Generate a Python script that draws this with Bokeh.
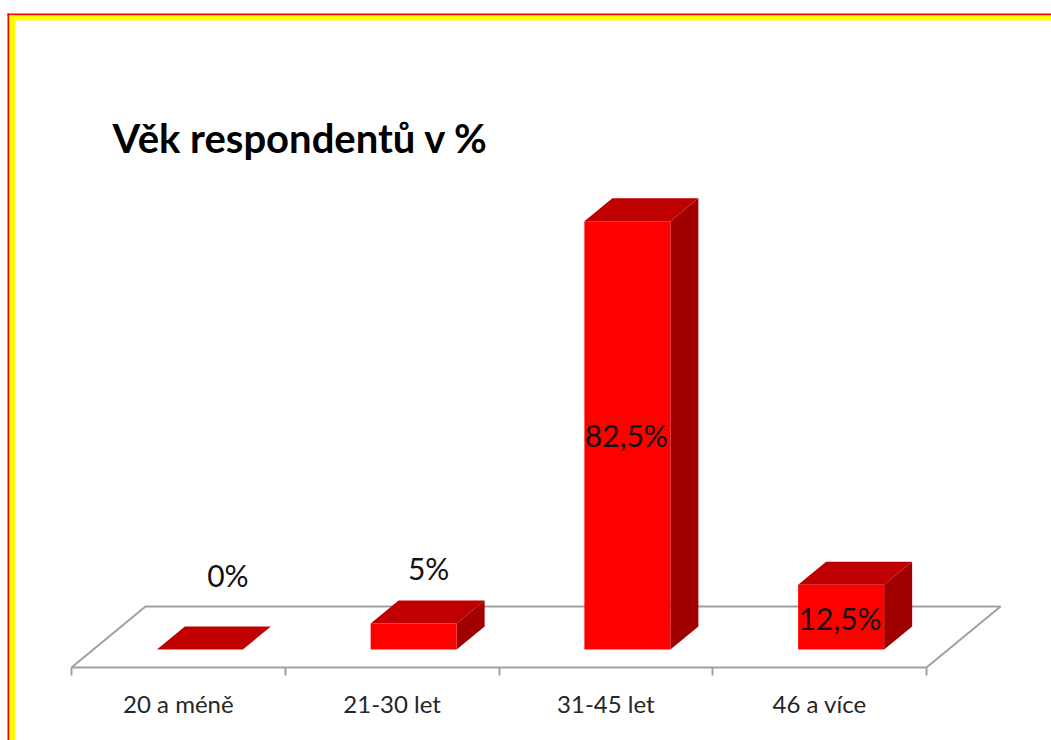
from bokeh.plotting import figure
from bokeh.models import Range1d, LinearAxis, FixedTicker, BoxAnnotation, Label, ColumnDataSource
from bokeh.core.properties import value
from bokeh.embed import file_html
from bokeh.resources import INLINE

title_text = "Věk respondentů v %"
categories = ["20 a méně", "21-30 let", "31-45 let", "46 a více"]
shares = [0, 5, 82.5, 12.5]
share_labels = ["0%", "5%", "82,5%", "12,5%"]

FONT = "Lato"
W, H = 1051, 740
CAT_PX = 213.75               # px per category
AX_X0 = 71                    # px of category axis start
PCT_PX = 5.19                 # px per percent
BASE_Y = 649                  # px of the zero level of the bar fronts

def ux(px):
    return px / CAT_PX
def uy(px):
    return px / PCT_PX

x_range = Range1d(-ux(AX_X0), ux(W - AX_X0))
y_range = Range1d(-uy(H - BASE_Y), uy(BASE_Y))

p = figure(width=W, height=H, x_range=x_range, y_range=y_range,
           x_axis_type=None, y_axis_type=None, output_backend="svg",
           toolbar_location=None, min_border=0, outline_line_color=None,
           background_fill_color="white", border_fill_color="white")
p.grid.visible = False

# Floor of the 3D plot
axis_y = -uy(18)
depth_x, depth_y = ux(74), uy(61)
n = len(categories)
GREY = "#a0a0a0"
p.line([0, depth_x, n + depth_x, n], [axis_y, axis_y + depth_y, axis_y + depth_y, axis_y],
       line_color=GREY, line_width=2)

# Category axis
axis = LinearAxis(
    ticker=FixedTicker(ticks=[i + 0.5 for i in range(n)], minor_ticks=list(range(n + 1))),
    major_label_overrides={i + 0.5: c for i, c in enumerate(categories)},
    fixed_location=axis_y, bounds=(0, n),
    axis_line_color=GREY, axis_line_width=2,
    major_tick_line_color=None, major_tick_in=0, major_tick_out=0,
    minor_tick_line_color=GREY, minor_tick_line_width=2, minor_tick_in=0, minor_tick_out=8,
    major_label_standoff=13,
    major_label_text_font=FONT, major_label_text_font_size="24px",
    major_label_text_color="#262626",
)
p.add_layout(axis, "below")

# 3D bars: front, top and side faces
half = ux(43)
shift = ux(21.5)
dx, dy = ux(28), uy(23)
front_x, front_y, top_x, top_y, side_x, side_y = [], [], [], [], [], []
for i, v in enumerate(shares):
    l, r = i + 0.5 + shift - half, i + 0.5 + shift + half
    front_x.append([l, r, r, l]); front_y.append([0, 0, v, v])
    top_x.append([l, r, r + dx, l + dx]); top_y.append([v, v, v + dy, v + dy])
    side_x.append([r, r + dx, r + dx, r]); side_y.append([0, dy, v + dy, v])

p.patches(side_x, side_y, fill_color="#a00000", line_color=None)
p.patches(front_x, front_y, fill_color="#ff0000", line_color=None)
p.patches(top_x, top_y, fill_color="#c00000", line_color=None)

# Data labels, hand placed relative to their bars
label_src = ColumnDataSource(dict(
    x=[i + 0.5 + shift for i in range(n)], y=shares, text=share_labels,
    xo=[28, 15, -1, -1], yo=[-75, -56, 214, 33],
))
p.text(x="x", y="y", text="text", x_offset="xo", y_offset="yo", source=label_src,
       text_align="center", text_baseline="middle", text_color="#111111",
       text_font=value(FONT), text_font_size="30px")

# Title
p.add_layout(Label(x=112, y=H - 137, x_units="screen", y_units="screen",
                   text=title_text, text_font=FONT, text_font_size="40px",
                   text_font_style="bold", text_color="black",
                   text_align="left", text_baseline="middle"))

# Slide frame: red outer line and yellow inner band
for box, col in [
    (dict(left=7, right=W, top=H - 13, bottom=H - 15), "#ff0000"),
    (dict(left=7, right=9, top=H - 13, bottom=0), "#ff0000"),
    (dict(left=9, right=W, top=H - 15, bottom=H - 20), "#ffff00"),
    (dict(left=9, right=15, top=H - 15, bottom=0), "#ffff00"),
]:
    p.add_layout(BoxAnnotation(left_units="screen", right_units="screen",
                               top_units="screen", bottom_units="screen",
                               fill_color=col, fill_alpha=1, line_color=None, **box))

open("out.html", "w").write(file_html(p, INLINE))
